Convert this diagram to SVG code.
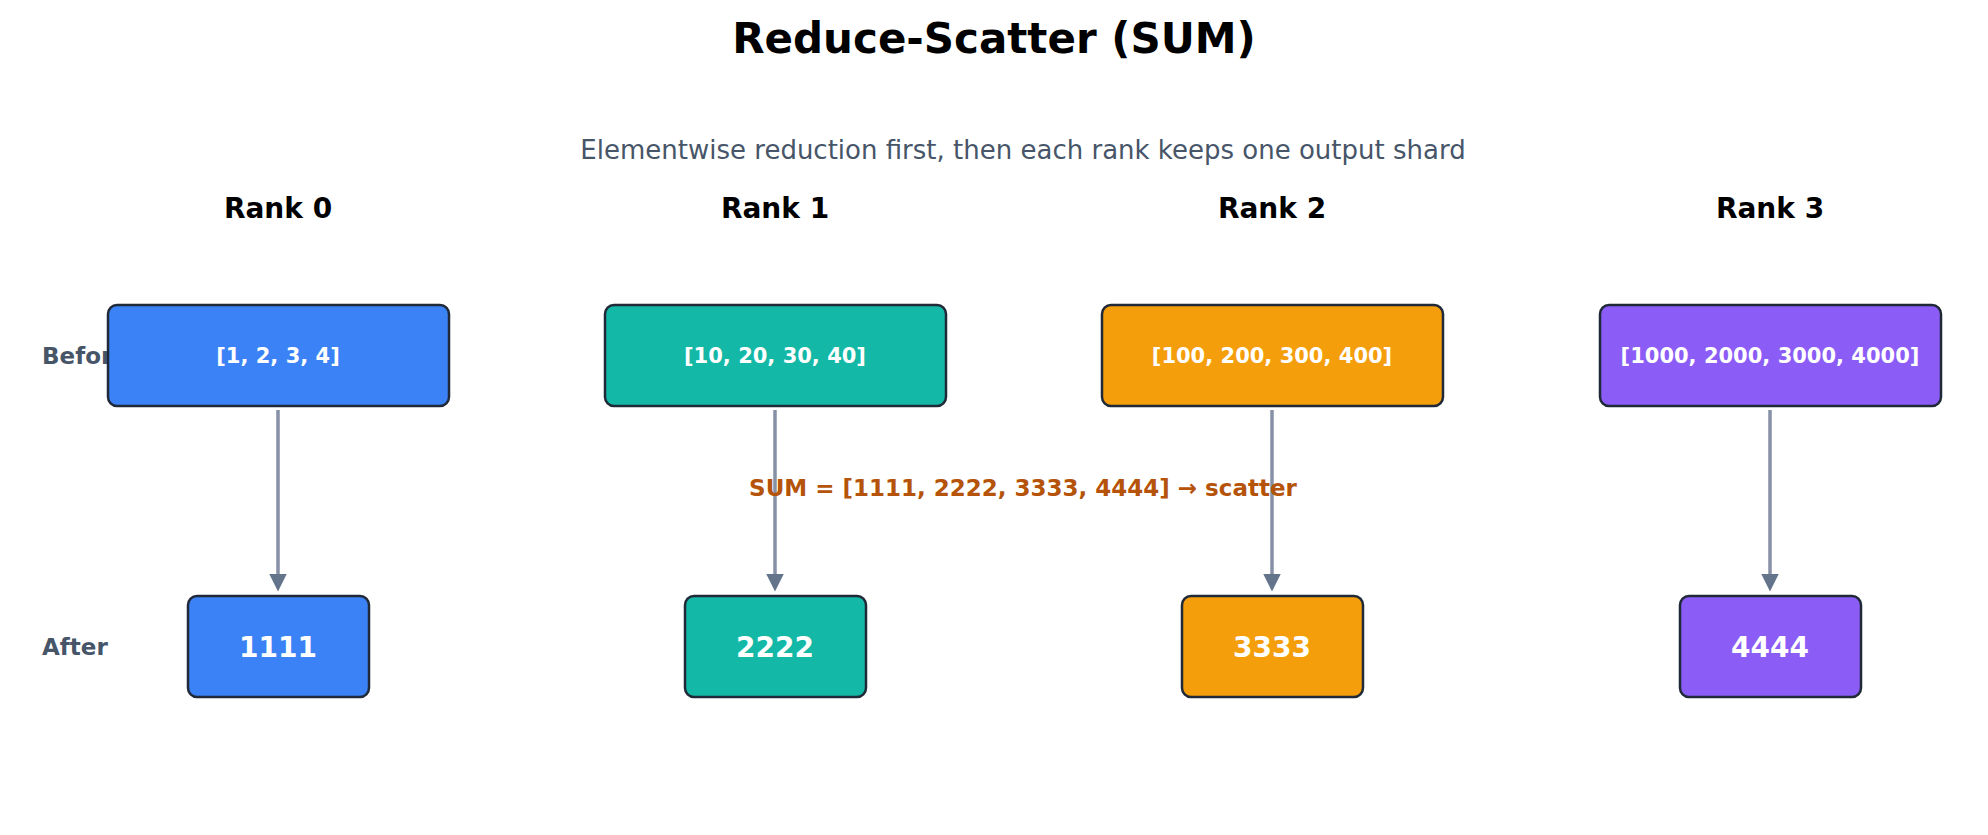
<svg xmlns="http://www.w3.org/2000/svg" width="1988" height="835" viewBox="0 0 1988 835">
<defs>
<style>
text{font-family:"DejaVu Sans",sans-serif;text-anchor:middle;dominant-baseline:central}
.box{stroke:#1f2937;stroke-width:2.5}
.lbl{fill:#fff;font-weight:bold;font-size:21px}
.big{fill:#fff;font-weight:bold;font-size:28px}
.rank{font-weight:bold;font-size:28px;fill:#000}
.side{font-weight:bold;font-size:23px;fill:#475569;text-anchor:start}
.conn{stroke:#8691a5;stroke-width:3.5;fill:none;marker-end:url(#ah)}
</style>
<marker id="ah" viewBox="0 0 10 10" refX="8" refY="5" markerWidth="5" markerHeight="5" orient="auto" markerUnits="strokeWidth"><path d="M0,0L10,5L0,10z" fill="#64748b"/></marker>
</defs>
<rect width="1988" height="835" fill="#fff"/>
<text x="994" y="38" font-size="42" font-weight="bold">Reduce-Scatter (SUM)</text>
<text x="1023" y="150" font-size="26" fill="#475569">Elementwise reduction first, then each rank keeps one output shard</text>
<text class="rank" x="278" y="208">Rank 0</text>
<text class="rank" x="775" y="208">Rank 1</text>
<text class="rank" x="1272" y="208">Rank 2</text>
<text class="rank" x="1770" y="208">Rank 3</text>
<text class="side" x="42" y="356">Before</text>
<text class="side" x="42" y="647">After</text>
<g id="connectors">
<line class="conn" x1="278" y1="410" x2="278" y2="588"/>
<line class="conn" x1="775" y1="410" x2="775" y2="588"/>
<line class="conn" x1="1272" y1="410" x2="1272" y2="588"/>
<line class="conn" x1="1770" y1="410" x2="1770" y2="588"/>
</g>
<text x="1023" y="488" font-size="23" font-weight="bold" fill="#b45309">SUM = [1111, 2222, 3333, 4444] → scatter</text>
<g id="b0"><rect class="box" x="108" y="305" width="341" height="101" rx="9" fill="#3b82f6"/><text class="lbl" x="278" y="356">[1, 2, 3, 4]</text></g>
<g id="b1"><rect class="box" x="605" y="305" width="341" height="101" rx="9" fill="#14b8a6"/><text class="lbl" x="775" y="356">[10, 20, 30, 40]</text></g>
<g id="b2"><rect class="box" x="1102" y="305" width="341" height="101" rx="9" fill="#f59e0b"/><text class="lbl" x="1272" y="356">[100, 200, 300, 400]</text></g>
<g id="b3"><rect class="box" x="1600" y="305" width="341" height="101" rx="9" fill="#8b5cf6"/><text class="lbl" x="1770" y="356">[1000, 2000, 3000, 4000]</text></g>
<g id="a0"><rect class="box" x="188" y="596" width="181" height="101" rx="9" fill="#3b82f6"/><text class="big" x="278" y="647">1111</text></g>
<g id="a1"><rect class="box" x="685" y="596" width="181" height="101" rx="9" fill="#14b8a6"/><text class="big" x="775" y="647">2222</text></g>
<g id="a2"><rect class="box" x="1182" y="596" width="181" height="101" rx="9" fill="#f59e0b"/><text class="big" x="1272" y="647">3333</text></g>
<g id="a3"><rect class="box" x="1680" y="596" width="181" height="101" rx="9" fill="#8b5cf6"/><text class="big" x="1770" y="647">4444</text></g>
</svg>
